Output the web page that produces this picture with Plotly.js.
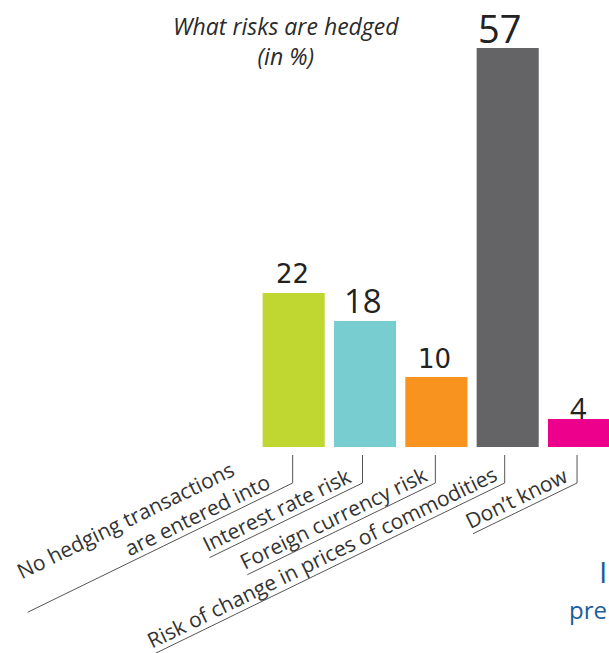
<!DOCTYPE html>
<html><head><meta charset="utf-8">
<script src="https://cdn.plot.ly/plotly-3.0.1.min.js"></script>
<style>html,body{margin:0;padding:0;overflow:hidden;background:#fff}</style>
</head><body><div id="chart" style="width:609px;height:653px"></div>
<script>
// ---- data ----
const categories = ['No hedging transactions are entered into', 'Interest rate risk', 'Foreign currency risk', 'Risk of change in prices of commodities', 'Don’t know'];
const tickLabelLines = [['No hedging transactions', 'are entered into'], ['Interest rate risk'], ['Foreign currency risk'], ['Risk of change in prices of commodities'], ['Don’t know']];
const values = [22, 18, 10, 57, 4];
const valueLabels = ['22', '18', '10', '57', '4'];
const barColors = ['#bfd730', '#78cdd0', '#f7931e', '#646466', '#ec008c'];
const titleText = 'What risks are hedged<br>(in %)';

// ---- styles ----
const numFonts = [
  {family: 'DejaVu Sans', size: 26}, {family: 'Open Sans', size: 33}, {family: 'DejaVu Sans', size: 26},
  {family: 'Open Sans', size: 38}, {family: 'Open Sans', size: 29}];
const numShift = [[-1, 19], [-2, 20], [-2, 18], [-8, 20], [-1, 12]];
const tickOff = [-1, -2.5, -1, -3, -2];
const labelEnd = [19, 8, 4, 3, 5];
const lineLen = [265, 153, 188, 400, 104];
const slope = Math.tan(26 * Math.PI / 180);
const labelFont = {family: 'Open Sans', size: 21, color: '#333333'};
const lineColor = '#555555';
const Y0 = -11.5;

const annotations = [];
// title
annotations.push({
  x: (286 - 258) / 351, y: (455 - 8) / 447, xref: 'paper', yref: 'paper', text: titleText, showarrow: false,
  xanchor: 'center', yanchor: 'top', align: 'center',
  font: {family: 'Open Sans', size: 23, style: 'italic', color: '#2a2a2a'}
});
categories.forEach((c, i) => {
  // value label
  annotations.push({
    x: c, y: values[i], xref: 'x', yref: 'y', text: valueLabels[i], showarrow: false,
    xanchor: 'center', yanchor: 'middle', xshift: numShift[i][0], yshift: numShift[i][1],
    font: Object.assign({color: '#222'}, numFonts[i])
  });
  // vertical leader
  annotations.push({
    x: c, y: 0, xref: 'x', yref: 'y', text: ' ', font: {size: 1}, borderpad: 0, borderwidth: 0,
    showarrow: true, arrowhead: 0, arrowwidth: 1, arrowcolor: lineColor, standoff: 0, startstandoff: 0,
    axref: 'pixel', ayref: 'pixel', ax: 0, ay: 28, xshift: tickOff[i], yshift: -8
  });
  // diagonal leader
  annotations.push({
    x: c, y: 0, xref: 'x', yref: 'y', text: ' ', font: {size: 1}, borderpad: 0, borderwidth: 0,
    showarrow: true, arrowhead: 0, arrowwidth: 1, arrowcolor: lineColor, standoff: 0, startstandoff: 0,
    axref: 'pixel', ayref: 'pixel', ax: -lineLen[i], ay: lineLen[i] * slope, xshift: tickOff[i], yshift: -36
  });
  // label lines (last line sits on the leader)
  const lines = tickLabelLines[i];
  const e = labelEnd[i];
  lines.forEach((t, k) => {
    const back = lines.length - 1 - k;
    annotations.push({
      x: c, y: 0, xref: 'x', yref: 'y', text: t, showarrow: false, textangle: -26,
      xanchor: 'right', yanchor: 'top', borderpad: 0, borderwidth: 0,
      xshift: tickOff[i] - e - 35 * back, yshift: Y0 - slope * e + 13 * back,
      font: labelFont
    });
  });
});
// partially visible text at right edge
annotations.push({x: 1, y: -0.26, xref: 'paper', yref: 'paper', text: 'I', showarrow: false, xanchor: 'right', yanchor: 'middle', font: {family: 'Open Sans', size: 30, color: '#1d5c9c'}});
annotations.push({x: 1, y: -0.345, xref: 'paper', yref: 'paper', text: 'pre', showarrow: false, xanchor: 'right', yanchor: 'middle', font: {family: 'Open Sans', size: 24, color: '#1d5c9c'}});

const trace = {
  type: 'bar', x: categories, y: values,
  marker: {color: barColors, line: {width: 0}},
  hoverinfo: 'none'
};

const layout = {
  width: 609, height: 653,
  margin: {l: 258, r: 0, t: 8, b: 198, pad: 0},
  paper_bgcolor: '#fff', plot_bgcolor: '#fff',
  showlegend: false,
  bargap: 0.13,
  xaxis: {type: 'category', range: [-0.5, 4.42], showticklabels: false, showgrid: false, zeroline: false, showline: false, ticks: ''},
  yaxis: {range: [-1.143, 62.71], showticklabels: false, showgrid: false, zeroline: false, showline: false, ticks: ''},
  annotations: annotations
};

Plotly.newPlot('chart', [trace], layout, {displayModeBar: false, staticPlot: true});
</script>
</body></html>
